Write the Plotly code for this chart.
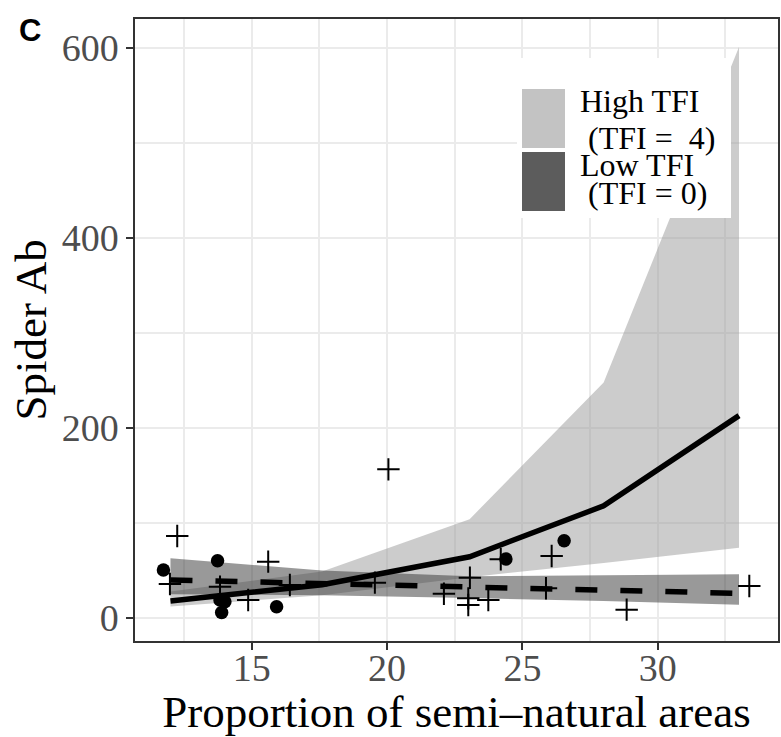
import plotly.graph_objects as go

# ---- data ----
pred_x = [12.0, 17.6, 23.05, 28.0, 33.0]
high_fit = [18.0, 35.0, 64.5, 118.0, 213.0]
high_lo = [12.0, 24.0, 43.0, 58.0, 74.0]
high_hi = [28.0, 49.0, 104.0, 248.0, 601.0]
low_fit = [40.0, 36.0, 32.0, 29.0, 26.0]
low_lo = [25.0, 24.0, 21.0, 18.0, 14.0]
low_hi = [63.0, 50.0, 44.0, 45.0, 46.0]

circle_x = [11.74, 13.74, 13.83, 14.01, 13.89, 15.92, 24.39, 26.54]
circle_y = [50.5, 60.3, 19.0, 17.2, 5.8, 11.9, 62.1, 81.4]

plus_x = [12.25, 11.98, 13.83, 15.61, 14.87, 16.41, 19.55, 20.05, 22.1, 23.06,
          23.0, 23.0, 23.74, 24.2, 26.08, 25.87, 28.85, 33.38]
plus_y = [86.3, 35.8, 33.0, 59.3, 18.9, 34.7, 37.2, 156.5, 25.5, 42.3,
          20.7, 13.7, 18.9, 61.8, 65.3, 31.3, 8.8, 33.7]

x_ticks = [15, 20, 25, 30]
y_ticks = [0, 200, 400, 600]
legend_labels = [("High TFI", "\u00a0(TFI =\u00a0\u00a04)"), ("Low TFI", "\u00a0(TFI = 0)")]

LIGHT = "rgba(153,153,153,0.5)"
DARK = "rgba(51,51,51,0.5)"
SERIF = "Liberation Serif"

fig = go.Figure()

# ribbons
fig.add_trace(go.Scatter(x=pred_x + pred_x[::-1], y=high_hi + high_lo[::-1],
                         fill="toself", fillcolor=LIGHT, line=dict(width=0),
                         mode="lines", hoverinfo="skip", showlegend=False))
fig.add_trace(go.Scatter(x=pred_x + pred_x[::-1], y=low_hi + low_lo[::-1],
                         fill="toself", fillcolor=DARK, line=dict(width=0),
                         mode="lines", hoverinfo="skip", showlegend=False))
# fitted lines
fig.add_trace(go.Scatter(x=pred_x, y=high_fit, mode="lines",
                         line=dict(color="black", width=5.5), showlegend=False))
fig.add_trace(go.Scatter(x=pred_x, y=low_fit, mode="lines",
                         line=dict(color="black", width=5.5, dash="22px,23px"), showlegend=False))
# points
fig.add_trace(go.Scatter(x=circle_x, y=circle_y, mode="markers",
                         marker=dict(symbol="circle", size=13.5, color="black", line=dict(width=0)),
                         showlegend=False))
fig.add_trace(go.Scatter(x=plus_x, y=plus_y, mode="markers",
                         marker=dict(symbol="cross-thin-open", size=16,
                                     line=dict(width=2, color="black"), color="black"),
                         showlegend=False))

# legend drawn manually (paper coords)
L, R, T, B = 135, 778, 19, 641
def px(xp): return (xp - L) / (R - L)
def py(yp): return (B - yp) / (B - T)

shapes = [
    dict(type="rect", xref="paper", yref="paper", x0=px(517), x1=px(731), y0=py(218), y1=py(58),
         fillcolor="white", line=dict(width=0), layer="above"),
    dict(type="rect", xref="paper", yref="paper", x0=px(522), x1=px(565), y0=py(148), y1=py(89),
         fillcolor="#c3c3c3", line=dict(width=0), layer="above"),
    dict(type="rect", xref="paper", yref="paper", x0=px(522), x1=px(565), y0=py(211), y1=py(152),
         fillcolor="#5c5c5c", line=dict(width=0), layer="above"),
]
annotations = []
line_y = [(101, 137.5), (165, 193)]
for (l1, l2), (y1, y2) in zip(legend_labels, line_y):
    annotations.append(dict(xref="paper", yref="paper", x=px(578), y=py(y1), text=l1, showarrow=False,
                            xanchor="left", yanchor="middle", font=dict(family=SERIF, size=32, color="black")))
    annotations.append(dict(xref="paper", yref="paper", x=px(578), y=py(y2), text=l2, showarrow=False,
                            xanchor="left", yanchor="middle", font=dict(family=SERIF, size=32, color="black")))
annotations.append(dict(xref="paper", yref="paper", x=px(30), y=py(30), text="<b>C</b>", showarrow=False,
                        xanchor="center", yanchor="middle",
                        font=dict(family="Liberation Sans", size=31, color="black")))

axis_common = dict(showline=True, mirror=True, linecolor="#333333", linewidth=1.5,
                   ticks="outside", ticklen=7, tickwidth=1.5, tickcolor="#333333",
                   showgrid=True, gridcolor="#ebebeb", gridwidth=2, zeroline=False,
                   automargin=False,
                   tickfont=dict(family=SERIF, size=38, color="#4d4d4d"))

fig.update_layout(
    width=781, height=737,
    margin=dict(l=L, r=781 - R, t=T, b=737 - B),
    paper_bgcolor="white", plot_bgcolor="white",
    showlegend=False,
    shapes=shapes, annotations=annotations,
    xaxis=dict(range=[10.69, 34.44], tickvals=x_ticks, ticklabelstandoff=-14,
               minor=dict(dtick=2.5, tick0=0, showgrid=True, gridcolor="#ebebeb", gridwidth=1.5, ticks=""),
               title=dict(text="Proportion of semi\u2013natural areas",
                          font=dict(family=SERIF, size=45, color="black"), standoff=16),
               **axis_common),
    yaxis=dict(range=[-24.2, 630.5], tickvals=y_ticks,
               minor=dict(dtick=100, tick0=0, showgrid=True, gridcolor="#ebebeb", gridwidth=1.5, ticks=""),
               title=dict(text="Spider Ab", font=dict(family=SERIF, size=45, color="black"), standoff=1),
               **axis_common),
)

fig.write_html("out.html", config={"displayModeBar": False},
               post_script="document.body.style.margin='0';document.body.style.overflow='hidden';")
